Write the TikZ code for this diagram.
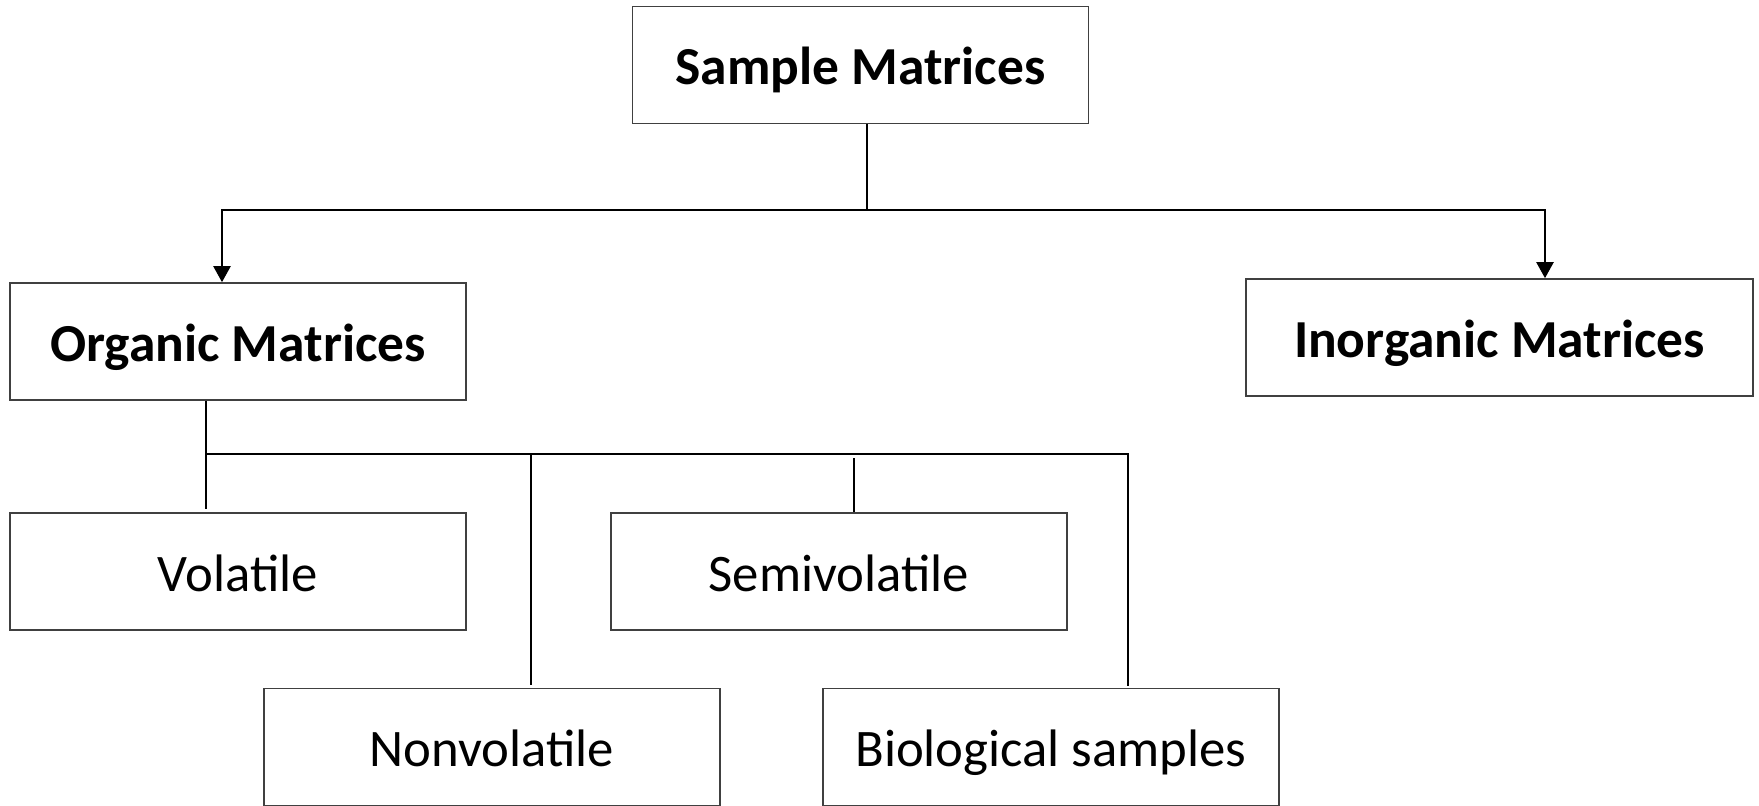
\documentclass[tikz,border=0pt]{standalone}
\usepackage{fontspec}
\setmainfont{Carlito}
\usepackage{tikz}
\usetikzlibrary{arrows.meta}
\usetikzlibrary{calc}

\tikzset{
    box/.style={draw=black!75, line width=0.45pt, minimum width=4.56cm,
        minimum height=1.17cm, inner sep=0pt, text height=0.45cm, text depth=0.06cm,
        font=\fontsize{15}{18}\selectfont},
    head/.style={box, font=\fontsize{15.2}{18}\selectfont\bfseries},
    conn/.style={line width=0.65pt},
    arr/.style={conn, -{Triangle[length=0.16cm, width=0.17cm]}}
}

\begin{document}
\begin{tikzpicture}[x=0.01cm, y=-0.01cm]
        \useasboundingbox (0,0) rectangle (1759,805);
        \clip (0,0) rectangle (1759,805);

        % Kopf
        \node[head] (sample) at (860.5,65) {Sample Matrices};

        % zweite Ebene
        \node[head] (organic) at (238,341.5) {Organic Matrices};
        \node[head, minimum width=5.07cm] (inorganic) at (1499.5,337.5) {Inorganic Matrices};

        % dritte Ebene
        \node[box] (volatile) at (238,571.5) {Volatile};
        \node[box] (semivol) at (839,571.5) {Semivolatile};
        \node[box] (nonvol) at (492,747) {Nonvolatile};
        \node[box] (bio) at (1051,747) {Biological samples};

        % Verzweigung oben
        \coordinate (split) at (867,210);
        \coordinate (ltop) at (222,210);
        \coordinate (rtop) at (1545,210);
        \draw[conn] (sample.south -| split) -- (split);
        \draw[arr] (split) -- (ltop) -- (ltop |- organic.north);
        \draw[arr] (split) -- (rtop) -- (rtop |- inorganic.north);

        % Verzweigung unten
        \coordinate (bus) at (206,454);
        \coordinate (busend) at (1128,454);
        \draw[conn] (organic.south -| bus) -- ($(volatile.north -| bus)+(0,-3)$);
        \draw[conn] (bus) -- (busend) -- ($(bio.north -| busend)+(0,-2)$);
        \foreach \x/\n in {531/nonvol}
            \draw[conn] (\x,454) -- ($(\n.north -| \x,0)+(0,-3)$);
        \draw[conn] (854,458) -- (semivol.north -| 854,0);
\end{tikzpicture}
\end{document}
